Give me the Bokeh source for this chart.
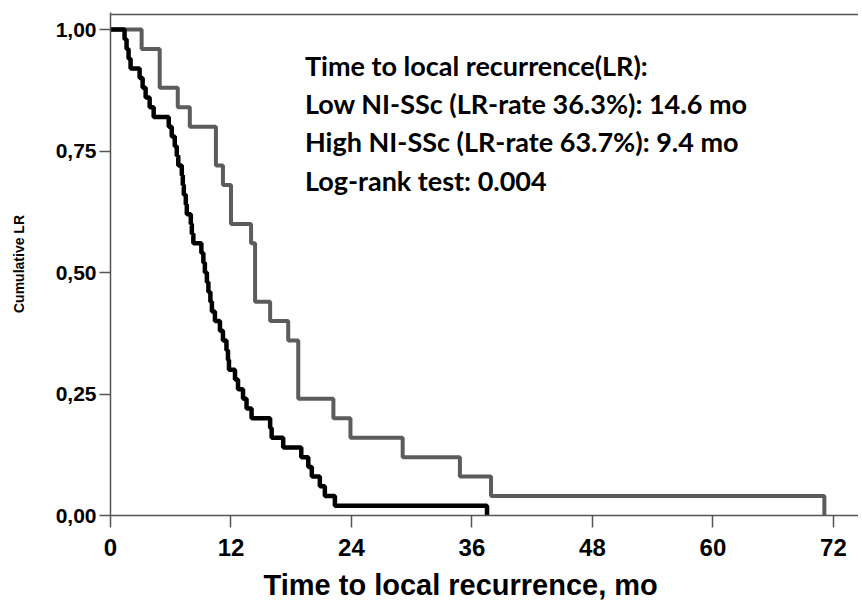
from bokeh.plotting import figure
from bokeh.models import Label, FixedTicker, Range1d, Title
from bokeh.embed import file_html
from bokeh.resources import INLINE

# ---- data ----
# High NI-SSc group: step times (months) and cumulative LR values
high_t = [0, 1.4, 1.6, 1.8, 2.0, 2.9, 3.2, 3.5, 3.9, 4.3, 5.8, 6.1, 6.4, 6.6, 6.75,
          7.1, 7.2, 7.3, 7.5, 7.6, 8.0, 8.1, 8.25, 9.05, 9.25, 9.4, 9.6, 9.75, 9.95,
          10.1, 10.4, 10.9, 11.2, 11.55, 11.7, 11.8, 12.4, 12.7, 13.2, 13.55, 14.05,
          15.9, 16.05, 17.2, 19.0, 19.7, 20.05, 20.85, 21.35, 22.35, 37.5]
high_v = [1.00, 0.98, 0.96, 0.94, 0.92, 0.90, 0.88, 0.86, 0.84, 0.82, 0.80, 0.78, 0.76,
          0.74, 0.72, 0.70, 0.68, 0.66, 0.64, 0.62, 0.60, 0.58, 0.56, 0.54, 0.52, 0.50,
          0.48, 0.46, 0.44, 0.42, 0.40, 0.38, 0.36, 0.34, 0.32, 0.30, 0.28, 0.26, 0.24,
          0.22, 0.20, 0.18, 0.16, 0.14, 0.12, 0.10, 0.08, 0.06, 0.04, 0.02, 0.00]

# Low NI-SSc group
low_t = [0, 3.1, 4.9, 6.7, 7.9, 10.5, 11.2, 12.0, 14.0, 14.4, 15.9, 17.7, 18.7,
         22.2, 23.9, 29.1, 34.8, 37.9, 71.1]
low_v = [1.00, 0.96, 0.88, 0.84, 0.80, 0.72, 0.68, 0.60, 0.56, 0.44, 0.40, 0.36, 0.24,
         0.20, 0.16, 0.12, 0.08, 0.04, 0.00]

x_ticks = [0, 12, 24, 36, 48, 60, 72]
y_ticks = [0, 0.25, 0.5, 0.75, 1.0]
y_tick_labels = ["0,00", "0,25", "0,50", "0,75", "1,00"]

x_title = "Time to local recurrence, mo"
y_title = "Cumulative LR"
annotation_lines = [
    "Time to local recurrence(LR):",
    "Low NI-SSc (LR-rate 36.3%): 14.6 mo",
    "High NI-SSc (LR-rate 63.7%): 9.4 mo",
    "Log-rank test: 0.004",
]
annotation_y = [0.926, 0.848, 0.770, 0.690]

# ---- figure ----
X_END = 74.5
Y_TOP = 1.035
FRAME_LINE = 1.031   # top frame line of the plot box
axis_col = "#555555"
p = figure(width=858, height=609, output_backend="svg", toolbar_location=None,
           x_range=Range1d(0, X_END), y_range=Range1d(0, Y_TOP),
           min_border_left=110, min_border_right=0, min_border_top=12, min_border_bottom=40)
p.background_fill_color = "white"
p.outline_line_color = None
p.grid.grid_line_color = None

# top border of the plot box (spans the whole x range)
p.line(x=[0, X_END], y=[FRAME_LINE, FRAME_LINE], line_color=axis_col, line_width=1.5)

p.step(low_t, low_v, mode="after", line_color="#5c5c5c", line_width=4)
p.step(high_t, high_v, mode="after", line_color="#000000", line_width=4.5)

p.xaxis.ticker = FixedTicker(ticks=x_ticks)
p.yaxis.ticker = FixedTicker(ticks=y_ticks)
p.yaxis.major_label_overrides = {t: s for t, s in zip(y_ticks, y_tick_labels)}
for ax in (p.xaxis[0], p.yaxis[0]):
    ax.axis_line_color = axis_col
    ax.axis_line_width = 1.5
    ax.major_tick_line_color = axis_col
    ax.major_tick_line_width = 1.5
    ax.minor_tick_line_color = None
    ax.major_tick_in = 0
    ax.major_label_text_font = "Liberation Sans"
    ax.major_label_text_font_style = "bold"
    ax.major_label_text_color = "black"
    ax.axis_label_text_font = "Liberation Sans"
    ax.axis_label_text_font_style = "bold"
    ax.axis_label_text_color = "black"

xa = p.xaxis[0]
xa.major_label_text_font_size = "24px"
xa.major_tick_out = 12
xa.major_label_standoff = 11

ya = p.yaxis[0]
ya.major_label_text_font_size = "21px"
ya.major_tick_out = 11
ya.major_label_standoff = 3
ya.axis_label = y_title
ya.axis_label_text_font_size = "14px"
ya.axis_label_standoff = 26

# x-axis title, placed below the axis and shifted left as in the reference
p.add_layout(Title(text=x_title, align="left", offset=153, text_font="Liberation Sans",
                   text_font_style="bold", text_font_size="29px", text_color="black",
                   standoff=17), "below")

for txt, yy in zip(annotation_lines, annotation_y):
    p.add_layout(Label(x=19.37, y=yy, text=txt, text_font="Lato", text_font_style="bold",
                       text_font_size="27px", text_color="black", text_baseline="middle"))

open("out.html", "w").write(file_html(p, INLINE))
